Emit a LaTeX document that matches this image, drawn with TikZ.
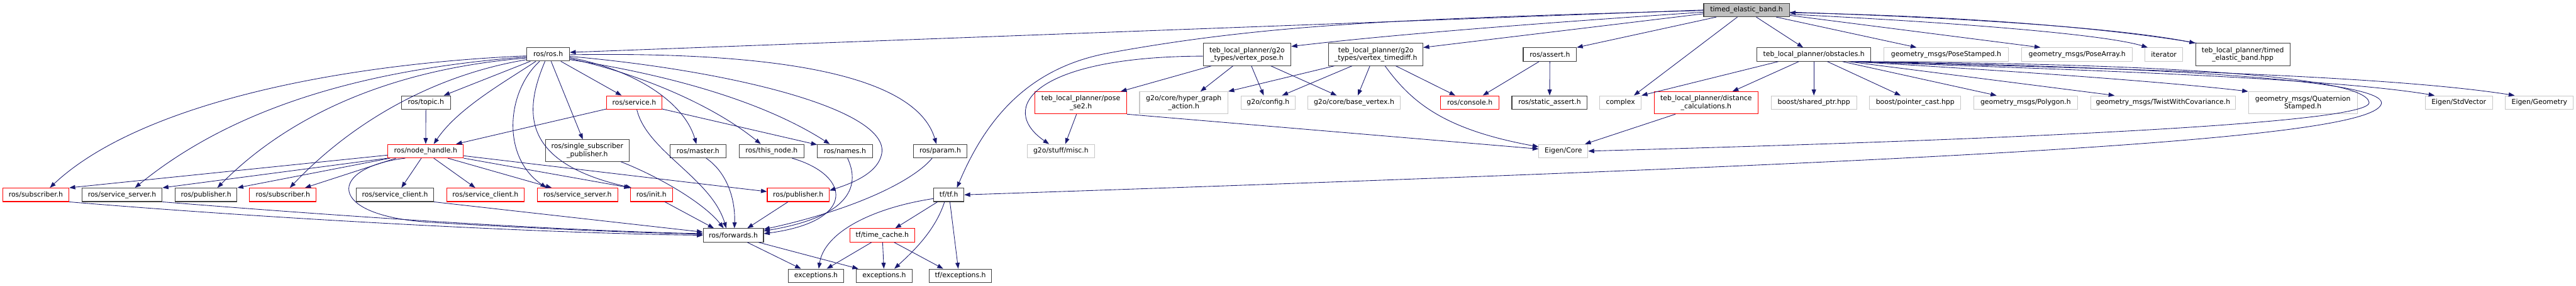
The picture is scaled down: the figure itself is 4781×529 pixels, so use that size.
\documentclass[tikz,border=0pt]{standalone}
\usepackage{fontspec}
\setmainfont{DejaVu Sans}
\usetikzlibrary{arrows.meta}
\definecolor{edgec}{RGB}{25,25,112}
\definecolor{nodered}{RGB}{255,0,0}
\newcommand\nfs{\fontsize{12.7}{14.3}\selectfont}
\begin{document}
\begin{tikzpicture}[x=1pt,y=-1pt,
  base/.style={rectangle, inner sep=0pt, minimum height=25pt, font=\nfs, align=center},
  blk/.style={base, draw=black!75, line width=1.2pt},
  rdn/.style={base, draw=nodered, line width=1.2pt},
  gry/.style={base, draw=black!22, line width=1.2pt},
  rootn/.style={base, draw=black!75, fill=black!25, line width=1.2pt},
  two/.style={minimum height=41pt},
  e/.style={draw=edgec, line width=1pt, -{Triangle[length=11pt,width=8pt]}}]
\fill[white] (0,0) rectangle (4781,529);
\useasboundingbox (0,0) rectangle (4781,529);
% row 0
\node[rootn, minimum width=159pt] (root) at (3241.5,18.5) {timed\_elastic\_band.h};
% row 1
\node[blk, minimum width=79pt] (rosh) at (1017.5,100.5) {ros/ros.h};
\node[blk, two, minimum width=163pt] (vpose) at (2314.5,101) {teb\_local\_planner/g2o\\\_types/vertex\_pose.h};
\node[blk, two, minimum width=175pt] (vtime) at (2553.5,101) {teb\_local\_planner/g2o\\\_types/vertex\_timediff.h};
\node[blk, minimum width=99pt] (assert) at (2876.5,101) {ros/assert.h};
\node[blk, minimum width=211pt] (obst) at (3366.5,101) {teb\_local\_planner/obstacles.h};
\node[gry, minimum width=232pt] (posest) at (3612,101) {geometry\_msgs/PoseStamped.h};
\node[gry, minimum width=206pt] (posearr) at (3855,101) {geometry\_msgs/PoseArray.h};
\node[gry, minimum width=70pt] (iter) at (4016,101) {iterator};
\node[blk, two, minimum width=175pt] (hpp) at (4162.5,101) {teb\_local\_planner/timed\\\_elastic\_band.hpp};
% row 2
\node[blk, minimum width=91pt] (topic) at (790.5,190) {ros/topic.h};
\node[rdn, minimum width=102pt] (service) at (1177,190) {ros/service.h};
\node[rdn, two, minimum width=170pt] (posese2) at (2006,190.5) {teb\_local\_planner/pose\\\_se2.h};
\node[gry, two, minimum width=164pt] (hga) at (2197,190.5) {g2o/core/hyper\_graph\\\_action.h};
\node[gry, minimum width=101pt] (config) at (2353.5,190) {g2o/config.h};
\node[gry, minimum width=172pt] (basev) at (2513,190) {g2o/core/base\_vertex.h};
\node[rdn, minimum width=108pt] (console) at (2728,190) {ros/console.h};
\node[blk, minimum width=140pt] (sassert) at (2876,190) {ros/static\_assert.h};
\node[gry, minimum width=77pt] (complex) at (3007.5,190) {complex};
\node[rdn, two, minimum width=193pt] (distc) at (3166.5,190.5) {teb\_local\_planner/distance\\\_calculations.h};
\node[gry, minimum width=159pt] (sptr) at (3366.5,190) {boost/shared\_ptr.hpp};
\node[gry, minimum width=169pt] (pcast) at (3554.5,190) {boost/pointer\_cast.hpp};
\node[gry, minimum width=193pt] (polygon) at (3759.5,190) {geometry\_msgs/Polygon.h};
\node[gry, minimum width=269pt] (twist) at (4014.5,190) {geometry\_msgs/TwistWithCovariance.h};
\node[gry, two, minimum width=202pt] (quat) at (4274,190.5) {geometry\_msgs/Quaternion\\Stamped.h};
\node[gry, minimum width=125pt] (stdvec) at (4563.5,190) {Eigen/StdVector};
\node[gry, minimum width=126pt] (geom) at (4713,190) {Eigen/Geometry};
% row 3
\node[rdn, minimum width=140pt] (nh) at (790,280) {ros/node\_handle.h};
\node[blk, two, minimum height=40pt, minimum width=156pt] (ssp) at (1090,279) {ros/single\_subscriber\\\_publisher.h};
\node[blk, minimum width=103pt] (master) at (1295.5,280) {ros/master.h};
\node[blk, minimum width=120pt] (thisnode) at (1432,280) {ros/this\_node.h};
\node[blk, minimum width=102pt] (names) at (1568,280) {ros/names.h};
\node[blk, minimum width=100pt] (param) at (1745,280) {ros/param.h};
\node[gry, minimum width=124pt] (misc) at (1969,280) {g2o/stuff/misc.h};
\node[gry, minimum width=91pt] (eigencore) at (2901.5,280) {Eigen/Core};
% row 4
\node[rdn, minimum width=123pt] (sub1) at (66.5,361) {ros/subscriber.h};
\node[blk, minimum width=149pt] (ss1) at (226.5,361) {ros/service\_server.h};
\node[blk, minimum width=115pt] (pub1) at (382.5,361) {ros/publisher.h};
\node[rdn, minimum width=124pt] (sub2) at (525,361) {ros/subscriber.h};
\node[blk, minimum width=144pt] (sc1) at (733,361) {ros/service\_client.h};
\node[rdn, minimum width=144pt] (sc2) at (901,361) {ros/service\_client.h};
\node[rdn, minimum width=150pt] (ss2) at (1072,361) {ros/service\_server.h};
\node[rdn, minimum width=78pt] (init) at (1209,361) {ros/init.h};
\node[rdn, minimum width=115pt] (pub2) at (1481.5,361) {ros/publisher.h};
\node[blk, minimum width=56pt] (tf) at (1761,361) {tf/tf.h};
% row 5
\node[blk, minimum width=112pt] (fwd) at (1361,436) {ros/forwards.h};
\node[rdn, minimum width=121pt] (tcache) at (1637.5,436) {tf/time\_cache.h};
% row 6
\node[blk, minimum width=103pt] (exc1) at (1514.5,511) {exceptions.h};
\node[blk, minimum width=104pt] (exc2) at (1641,511) {exceptions.h};
\node[blk, minimum width=115pt] (tfexc) at (1782.5,511) {tf/exceptions.h};

% ---- edges from root
\draw[e] (root.west) -- ([yshift=3.5pt]rosh.east);
\draw[e] ([yshift=-1pt]root.west) .. controls (2600,35) and (2350,45) .. (2059,98) .. controls (1909,125) and (1830,220) .. ([xshift=15pt]tf.north);
\draw[e] ([yshift=-4pt]root.west) .. controls (2900,40) and (2600,62) .. ([yshift=15pt]vpose.east);
\draw[e] ([yshift=-7pt]root.west) -- ([yshift=13pt]vtime.east);
\draw[e] ([xshift=-56pt]root.south) -- (assert.north east);
\draw[e] ([xshift=-17pt]root.south) -- ([xshift=25pt]complex.north);
\draw[e] ([xshift=18pt]root.south) -- ([xshift=-20pt]obst.north);
\draw[e] ([xshift=55pt]root.south) -- ([xshift=-55pt]posest.north);
\draw[e] ([yshift=-10pt]root.east) -- ([xshift=-68pt]posearr.north);
\draw[e] ([yshift=-8pt]root.east) .. controls (3600,40) and (3900,62) .. ([xshift=-30pt]iter.north);
\draw[e] ([yshift=-4pt]root.east) .. controls (3700,35) and (3950,55) .. (hpp.north west);
\draw[e] ([xshift=3pt]hpp.north west) .. controls (3950,58) and (3700,31) .. ([yshift=-5pt]root.east);
% ---- ros.h
\draw[e] ([yshift=-3pt]rosh.west) .. controls (600,120) and (250,200) .. ([xshift=26pt]sub1.north);
\draw[e] ([yshift=-5pt]rosh.west) .. controls (650,130) and (420,210) .. ([xshift=24pt]ss1.north);
\draw[e] ([yshift=-7pt]rosh.west) .. controls (700,130) and (520,230) .. ([xshift=21pt]pub1.north);
\draw[e] ([yshift=-10pt]rosh.west) .. controls (800,140) and (650,230) .. ([xshift=13pt]sub2.north);
\draw[e] (rosh) -- (topic);
\draw[e] ([xshift=-23pt]rosh.south) .. controls (940,150) and (850,200) .. ([xshift=15pt]nh.north);
\draw[e] ([xshift=-16pt]rosh.south) .. controls (940,170) and (930,290) .. ([xshift=-58pt]ss2.north);
\draw[e] ([xshift=-6pt]rosh.south) .. controls (975,200) and (960,300) .. ([xshift=-37pt]init.north);
\draw[e] (rosh) -- (ssp);
\draw[e] (rosh) -- (service);
\draw[e] ([yshift=-6pt]rosh.east) .. controls (1180,130) and (1270,190) .. ([xshift=-3pt]master.north);
\draw[e] ([yshift=-8pt]rosh.east) .. controls (1200,140) and (1330,200) .. ([xshift=-20pt]thisnode.north);
\draw[e] ([yshift=-10pt]rosh.east) .. controls (1250,140) and (1420,190) .. ([xshift=-28pt]names.north);
\draw[e] ([yshift=-1pt]rosh.east) .. controls (1450,95) and (1700,140) .. ([xshift=-7pt]param.north);
\draw[e] ([yshift=-4pt]rosh.east) .. controls (1350,130) and (1640,200) .. (1637,280) .. controls (1634,320) and (1580,340) .. ([yshift=8pt]pub2.east);
% ---- topic, service
\draw[e] (topic) -- (nh);
\draw[e] (service) -- (nh);
\draw[e] (service) -- (names);
\draw[e] ([xshift=5pt]service.south) .. controls (1200,280) and (1320,330) .. ([xshift=-13pt]fwd.north);
% ---- node_handle
\draw[e] (nh.186) -- (sub1.north east);
\draw[e] (nh.south west) -- (ss1.north east);
\draw[e] ([xshift=-66pt]nh.south) -- (pub1.north east);
\draw[e] ([xshift=-55pt]nh.south) -- ([xshift=41pt]sub2.north);
\draw[e] ([xshift=-8pt]nh.south) -- ([xshift=12pt]sc1.north);
\draw[e] ([xshift=-38pt]nh.south) .. controls (610,310) and (600,400) .. (800,412) .. controls (1000,424) and (1200,432) .. ([yshift=2pt]fwd.west);
\draw[e] ([xshift=15pt]nh.south) -- ([xshift=-19pt]sc2.north);
\draw[e] ([xshift=41pt]nh.south) -- ([xshift=-48pt]ss2.north);
\draw[e] (nh.south east) -- (init.north west);
\draw[e] (nh.353.5) -- ([yshift=6pt]pub2.west);
% ---- into forwards
\draw[e] (sub1.south east) .. controls (500,405) and (1000,432) .. (fwd.west);
\draw[e] (ss1.south east) .. controls (600,398) and (1000,426) .. ([yshift=3pt]fwd.west);
\draw[e] (sc1.south east) -- ([yshift=6pt]fwd.west);
\draw[e] ([xshift=62pt]ssp.south) .. controls (1230,330) and (1310,380) .. ([xshift=-18pt]fwd.north);
\draw[e] ([xshift=15pt]master.south) .. controls (1350,320) and (1365,370) .. ([xshift=2pt]fwd.north);
\draw[e] ([xshift=25pt]init.south) -- ([xshift=-36pt]fwd.north);
\draw[e] ([xshift=-19pt]pub2.south) -- ([xshift=26pt]fwd.north);
\draw[e] ([xshift=38pt]thisnode.south) .. controls (1580,325) and (1590,410) .. ([yshift=3pt]fwd.east);
\draw[e] ([xshift=5pt]names.south) .. controls (1595,340) and (1585,400) .. ([yshift=8pt]fwd.east);
\draw[e] ([xshift=-15pt]param.south) .. controls (1700,330) and (1600,385) .. ([yshift=11pt]fwd.east);
% ---- forwards, tf, time_cache
\draw[e] ([xshift=26pt]fwd.south) -- ([xshift=-28pt]exc1.north);
\draw[e] ([xshift=47pt]fwd.south) -- ([xshift=-48pt]exc2.north);
\draw[e] ([xshift=-21pt]tf.south) -- ([xshift=24pt]tcache.north);
\draw[e] ([yshift=-7pt]tf.west) .. controls (1620,385) and (1530,430) .. ([xshift=5pt]exc1.north);
\draw[e] ([xshift=-8pt]tf.south) .. controls (1735,430) and (1690,470) .. ([xshift=19pt]exc2.north);
\draw[e] ([xshift=2pt]tf.south) -- ([xshift=-4pt]tfexc.north);
\draw[e] ([xshift=-20pt]tcache.south) -- ([xshift=20pt]exc1.north);
\draw[e] (tcache) -- (exc2);
\draw[e] ([xshift=22pt]tcache.south) -- ([xshift=-32pt]tfexc.north);
% ---- vertex_pose, pose_se2
\draw[e] ([xshift=-66pt]vpose.south) -- ([xshift=74pt]posese2.north);
\draw[e] ([xshift=-26pt]vpose.south) -- ([xshift=31pt]hga.north);
\draw[e] ([xshift=8pt]vpose.south) -- ([xshift=-8pt]config.north);
\draw[e] ([xshift=44pt]vpose.south) -- ([xshift=-32pt]basev.north);
\draw[e] ([yshift=-3pt]vpose.west) .. controls (1920,105) and (1850,200) .. ([xshift=-22pt]misc.north);
\draw[e] ([xshift=-8pt]posese2.south) -- ([xshift=8pt]misc.north);
\draw[e] (posese2.south east) -- ([yshift=4pt]eigencore.west);
% ---- vertex_timediff
\draw[e] ([xshift=-77pt]vtime.south) -- (hga.north east);
\draw[e] ([xshift=-44pt]vtime.south) -- ([xshift=26pt]config.north);
\draw[e] ([xshift=-11pt]vtime.south) -- ([xshift=7pt]basev.north);
\draw[e] ([xshift=17pt]vtime.south) .. controls (2620,190) and (2680,240) .. ([yshift=8pt]eigencore.west);
\draw[e] ([xshift=37pt]vtime.south) -- ([xshift=-27pt]console.north);
% ---- assert
\draw[e] ([xshift=-20pt]assert.south) -- ([xshift=24pt]console.north);
\draw[e] (assert) -- (sassert);
% ---- obstacles
\draw[e] ([xshift=-66pt]obst.south) -- (complex.north east);
\draw[e] ([xshift=-28pt]obst.south) -- ([xshift=49pt]distc.north);
\draw[e] (obst) -- (sptr);
\draw[e] ([xshift=25pt]obst.south) -- ([xshift=-27pt]pcast.north);
\draw[e] ([xshift=53pt]obst.south) -- ([xshift=-54pt]polygon.north);
\draw[e] ([xshift=64pt]obst.south) -- ([xshift=-90pt]twist.north);
\draw[e] ([xshift=70pt]obst.south) .. controls (3800,135) and (4050,155) .. (quat.north west);
\draw[e] ([xshift=75pt]obst.south) .. controls (3700,125) and (4300,140) .. ([xshift=-45pt]stdvec.north);
\draw[e] ([xshift=78pt]obst.south) .. controls (3800,125) and (4400,135) .. ([xshift=-46pt]geom.north);
\draw[e] ([xshift=80pt]obst.south) .. controls (4000,118) and (4390,140) .. (4397,190) .. controls (4400,240) and (3300,270) .. (eigencore.east);
\draw[e] ([xshift=82pt]obst.south) .. controls (4050,125) and (4415,150) .. (4420,190) .. controls (4420,260) and (3600,300) .. (tf.east);
% ---- distance_calculations
\draw[e] ([xshift=-57pt]distc.south) -- ([xshift=40pt]eigencore.north);
\end{tikzpicture}
\end{document}
